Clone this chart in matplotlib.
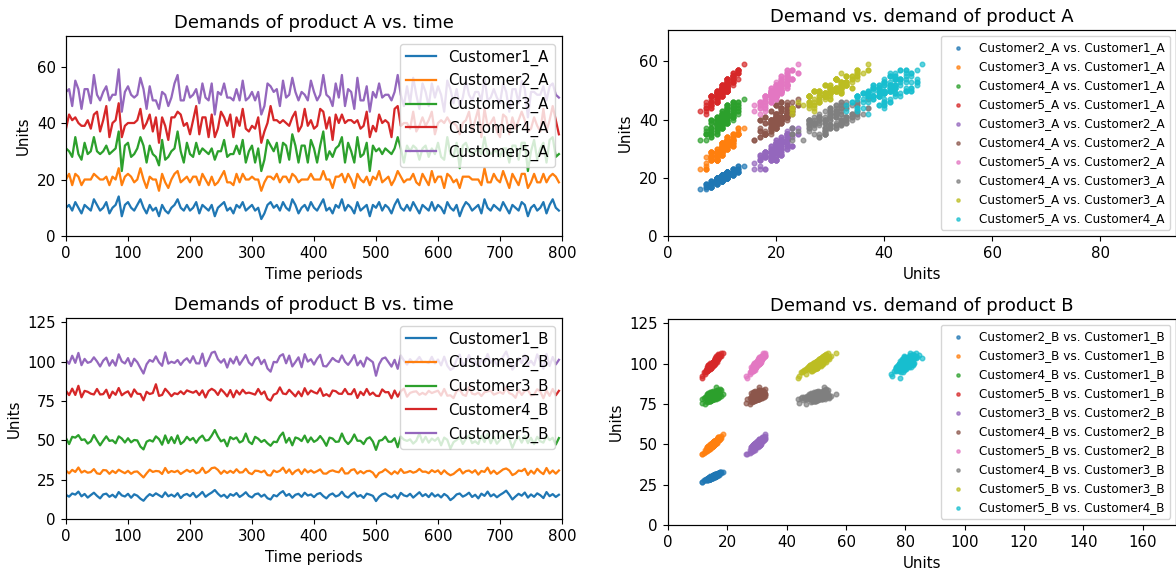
import matplotlib
matplotlib.use("Agg")
import matplotlib.pyplot as plt
from itertools import combinations

# Time index (every 5th period)
time_periods = list(range(0, 800, 5))

# Product A demand per customer (units)
customer1_a = [
    10, 11, 9, 12, 10, 8, 11, 10, 9, 13, 11, 9, 10, 12, 8, 10, 11, 14, 7, 11,
    12, 10, 9, 11, 13, 10, 8, 11, 9, 10, 7, 11, 9, 8, 10, 11, 13, 10, 9, 11,
    9, 10, 12, 8, 11, 10, 9, 11, 7, 10, 11, 12, 9, 10, 8, 11, 10, 12, 9, 10,
    11, 9, 10, 6, 8, 11, 12, 10, 11, 9, 12, 10, 9, 13, 11, 8, 10, 11, 9, 12,
    10, 9, 11, 13, 9, 10, 8, 11, 10, 13, 9, 11, 10, 8, 12, 9, 10, 11, 7, 11,
    10, 12, 9, 11, 10, 8, 11, 13, 10, 9, 11, 9, 12, 10, 8, 11, 10, 9, 12, 9,
    11, 10, 8, 12, 10, 9, 11, 7, 10, 12, 11, 9, 10, 11, 8, 13, 10, 9, 11, 10,
    9, 12, 10, 8, 11, 10, 9, 12, 11, 7, 10, 11, 9, 10, 12, 8, 11, 13, 10, 9]
customer2_a = [
    20, 22, 18, 22, 21, 18, 20, 20, 20, 22, 21, 20, 20, 21, 18, 21, 20, 24, 18, 21,
    22, 21, 19, 20, 24, 20, 17, 21, 20, 20, 16, 22, 19, 17, 20, 22, 23, 19, 20, 21,
    19, 21, 21, 18, 22, 20, 18, 21, 18, 19, 21, 23, 19, 19, 18, 22, 19, 22, 20, 20,
    21, 20, 20, 16, 19, 21, 21, 20, 22, 19, 21, 21, 19, 22, 21, 19, 20, 20, 20, 22,
    20, 20, 20, 23, 20, 20, 17, 21, 21, 22, 19, 22, 20, 17, 22, 20, 19, 21, 18, 21,
    20, 23, 19, 20, 21, 18, 20, 23, 21, 19, 20, 20, 22, 19, 18, 22, 20, 18, 23, 19,
    21, 21, 17, 22, 21, 19, 20, 17, 21, 21, 21, 20, 20, 20, 18, 24, 19, 19, 22, 20,
    19, 23, 20, 17, 22, 20, 18, 22, 22, 17, 19, 22, 19, 19, 22, 19, 21, 22, 21, 19]
customer3_a = [
    31, 30, 28, 35, 29, 27, 33, 29, 30, 35, 30, 29, 30, 32, 29, 30, 31, 37, 23, 32,
    33, 28, 29, 31, 35, 32, 26, 32, 29, 28, 25, 34, 27, 28, 30, 31, 37, 30, 26, 33,
    29, 28, 33, 29, 31, 30, 29, 31, 27, 30, 30, 34, 28, 29, 29, 32, 29, 34, 26, 30,
    32, 26, 31, 23, 27, 34, 32, 30, 33, 26, 33, 32, 27, 36, 32, 26, 32, 32, 26, 34,
    31, 26, 32, 37, 27, 30, 28, 31, 32, 35, 26, 33, 30, 26, 35, 28, 29, 33, 23, 32,
    30, 31, 29, 31, 30, 29, 31, 35, 31, 26, 32, 30, 32, 31, 27, 31, 32, 28, 31, 29,
    33, 28, 27, 35, 29, 28, 33, 24, 32, 33, 30, 29, 30, 31, 29, 35, 29, 29, 30, 30,
    28, 31, 31, 26, 32, 32, 27, 33, 33, 23, 30, 34, 27, 31, 33, 26, 34, 35, 28, 29]
customer4_a = [
    38, 43, 41, 42, 40, 39, 39, 41, 38, 43, 44, 37, 41, 46, 35, 40, 41, 47, 35, 39,
    40, 40, 40, 41, 45, 38, 40, 43, 37, 42, 33, 42, 39, 34, 42, 42, 44, 43, 39, 40,
    36, 41, 46, 36, 42, 42, 35, 43, 35, 38, 44, 42, 39, 43, 35, 42, 39, 45, 38, 37,
    39, 38, 42, 33, 37, 40, 46, 41, 41, 40, 41, 40, 39, 42, 44, 37, 39, 45, 39, 41,
    38, 39, 45, 44, 38, 42, 34, 43, 40, 43, 40, 41, 41, 40, 41, 38, 39, 44, 35, 39,
    37, 43, 40, 41, 40, 35, 45, 46, 39, 40, 40, 38, 44, 37, 39, 42, 39, 41, 44, 36,
    40, 41, 40, 42, 40, 40, 39, 36, 40, 41, 44, 37, 41, 45, 35, 45, 39, 40, 42, 37,
    35, 43, 42, 36, 42, 38, 41, 44, 41, 37, 38, 42, 39, 37, 45, 37, 41, 46, 41, 36]
customer5_a = [
    51, 52, 46, 55, 52, 45, 52, 52, 47, 57, 50, 48, 51, 53, 48, 50, 50, 59, 44, 51,
    53, 50, 49, 50, 56, 52, 45, 53, 48, 48, 45, 51, 50, 46, 49, 54, 57, 48, 48, 53,
    49, 50, 52, 47, 54, 49, 48, 54, 43, 51, 50, 54, 49, 49, 48, 52, 48, 55, 48, 49,
    51, 48, 51, 43, 46, 54, 53, 51, 52, 46, 55, 49, 50, 56, 51, 48, 51, 50, 48, 55,
    51, 48, 50, 57, 50, 49, 46, 54, 49, 57, 46, 52, 51, 45, 56, 48, 48, 53, 44, 51,
    49, 54, 49, 50, 50, 48, 51, 57, 50, 46, 53, 47, 56, 50, 45, 54, 51, 46, 54, 49,
    53, 50, 44, 55, 52, 47, 52, 46, 49, 55, 50, 48, 51, 51, 48, 56, 48, 49, 52, 49,
    47, 54, 51, 44, 52, 52, 47, 55, 52, 42, 51, 51, 50, 50, 53, 48, 53, 54, 50, 49]

# Product B demand per customer (units)
customer1_b = [
    15.3, 14.2, 16.2, 15.5, 17.4, 14.4, 15.9, 13.6, 15.2, 16.7, 14.7, 13.1, 15.6, 16.1, 14.1, 15.4, 13.7, 17.1, 15.0, 14.3,
    16.0, 13.5, 15.7, 14.8, 12.9, 11.6, 14.0, 15.8, 14.6, 16.3, 15.1, 13.9, 16.9, 14.4, 15.5, 14.2, 16.4, 13.3, 15.2, 15.9,
    14.5, 16.6, 13.8, 15.3, 17.2, 14.1, 15.6, 16.8, 18.4, 16.1, 14.3, 15.4, 13.4, 15.8, 14.8, 16.5, 14.0, 15.3, 17.0, 14.6,
    13.7, 15.7, 16.2, 14.2, 15.5, 13.2, 12.4, 15.2, 14.4, 16.4, 17.7, 14.7, 15.9, 13.5, 15.4, 16.0, 14.1, 16.7, 14.9, 15.6,
    13.9, 15.8, 16.5, 14.5, 13.1, 15.3, 16.2, 14.3, 15.1, 17.3, 14.6, 13.6, 15.6, 16.9, 14.2, 15.2, 13.4, 16.1, 15.5, 14.7,
    11.4, 14.1, 15.7, 16.3, 14.8, 13.8, 15.4, 13.0, 16.6, 15.0, 14.4, 16.0, 13.6, 15.3, 17.0, 14.5, 15.8, 13.9, 16.4, 14.3,
    15.5, 13.7, 15.9, 14.6, 12.0, 13.5, 15.6, 16.2, 14.2, 15.2, 16.7, 14.0, 15.4, 13.1, 16.1, 14.7, 17.4, 14.4, 15.7, 13.8,
    15.3, 16.5, 18.0, 15.4, 12.4, 14.3, 16.0, 14.8, 16.8, 13.6, 15.6, 14.1, 16.3, 15.1, 13.3, 17.1, 14.5, 15.8, 14.0, 15.4]
customer2_b = [
    30.7, 29.0, 31.2, 29.9, 32.7, 29.5, 30.6, 29.4, 29.8, 31.7, 29.0, 28.6, 31.1, 30.9, 28.7, 30.6, 29.2, 31.3, 30.1, 29.1,
    30.6, 28.7, 30.0, 30.2, 28.3, 26.4, 29.0, 31.3, 29.9, 30.5, 30.3, 28.6, 32.4, 29.3, 30.5, 29.8, 30.7, 28.6, 29.9, 31.2,
    29.9, 31.1, 29.0, 29.7, 32.5, 29.2, 30.3, 32.3, 32.7, 31.2, 28.7, 30.7, 29.2, 30.6, 29.3, 31.6, 29.5, 29.7, 31.9, 29.3,
    28.5, 30.7, 30.5, 29.7, 30.7, 27.9, 27.6, 30.8, 29.8, 30.6, 32.6, 29.3, 31.5, 28.4, 30.4, 31.4, 28.6, 31.6, 29.6, 30.9,
    29.4, 30.4, 31.5, 28.9, 28.8, 30.3, 30.9, 30.1, 29.7, 32.3, 28.9, 29.0, 31.1, 31.6, 28.8, 30.4, 29.0, 30.4, 30.6, 29.4,
    26.5, 29.3, 30.0, 31.6, 30.0, 28.4, 30.3, 28.8, 31.7, 29.3, 29.7, 30.5, 29.4, 30.1, 31.8, 30.0, 30.1, 29.1, 31.0, 29.8,
    30.9, 28.5, 30.9, 29.0, 27.8, 28.6, 30.3, 31.8, 28.9, 30.4, 30.8, 29.4, 31.0, 28.2, 30.5, 29.9, 32.6, 28.9, 30.7, 28.6,
    30.0, 31.5, 32.1, 30.8, 27.9, 28.9, 30.8, 30.4, 31.9, 28.0, 30.7, 28.8, 31.9, 29.9, 28.5, 32.4, 28.9, 30.8, 28.8, 30.8]
customer3_b = [
    51.3, 47.6, 52.2, 51.7, 53.3, 50.2, 50.6, 47.9, 49.3, 53.3, 49.9, 46.8, 49.8, 52.5, 49.6, 50.0, 48.1, 52.5, 51.1, 48.6,
    51.3, 48.7, 50.2, 49.9, 46.0, 44.2, 49.1, 50.1, 49.2, 52.5, 50.8, 47.2, 53.1, 48.2, 52.0, 48.2, 53.1, 47.6, 49.2, 52.2,
    50.0, 51.5, 48.4, 51.4, 53.0, 49.8, 50.2, 53.0, 56.5, 52.4, 49.3, 50.4, 46.2, 52.0, 50.7, 51.8, 48.6, 49.6, 54.3, 49.1,
    47.6, 52.2, 51.0, 48.9, 50.2, 48.1, 46.5, 49.1, 48.8, 52.6, 54.9, 48.5, 51.5, 46.8, 51.8, 51.1, 49.5, 53.0, 48.7, 51.8,
    49.0, 50.2, 52.7, 50.1, 46.5, 51.7, 51.1, 49.0, 49.2, 54.3, 49.8, 47.6, 49.8, 53.7, 49.7, 49.7, 47.6, 50.9, 51.9, 49.2,
    43.9, 49.7, 50.2, 52.3, 49.1, 49.1, 51.3, 45.6, 52.4, 50.4, 49.6, 50.6, 47.9, 49.7, 54.4, 48.7, 52.2, 48.5, 51.1, 49.7,
    51.6, 46.8, 51.7, 50.3, 44.7, 48.8, 50.2, 52.0, 47.7, 50.9, 53.1, 48.2, 49.4, 47.7, 52.8, 48.9, 54.0, 48.1, 52.2, 47.8,
    50.2, 53.5, 53.9, 50.8, 45.2, 49.9, 52.3, 48.5, 52.7, 48.2, 51.6, 47.6, 52.2, 49.4, 48.5, 52.9, 50.1, 51.6, 47.3, 51.4]
customer4_b = [
    81.4, 78.7, 82.8, 78.8, 84.6, 77.3, 81.4, 80.8, 79.6, 79.1, 82.6, 79.1, 79.3, 82.1, 76.9, 80.9, 78.9, 83.2, 78.6, 80.1,
    81.1, 77.7, 82.3, 79.6, 79.4, 75.4, 80.8, 79.4, 80.0, 85.6, 78.2, 78.8, 82.7, 80.5, 78.0, 79.9, 79.3, 81.1, 79.3, 81.7,
    80.9, 80.2, 81.4, 78.7, 81.7, 77.2, 81.3, 82.7, 81.5, 78.8, 82.4, 80.4, 77.9, 81.9, 77.3, 81.6, 79.1, 82.1, 79.8, 80.3,
    79.7, 79.0, 82.6, 79.2, 81.0, 76.3, 75.2, 79.0, 79.8, 83.6, 79.7, 79.3, 82.1, 80.0, 77.9, 81.0, 78.0, 83.1, 79.1, 81.6,
    80.5, 79.7, 83.0, 78.2, 79.3, 77.9, 81.6, 81.2, 79.6, 79.5, 82.6, 79.4, 79.3, 82.5, 76.9, 80.8, 78.7, 82.6, 78.9, 80.3,
    78.3, 78.1, 82.3, 80.5, 80.6, 76.7, 81.6, 77.7, 81.2, 82.8, 77.7, 80.1, 80.8, 81.1, 78.9, 80.1, 79.0, 81.4, 80.0, 80.8,
    81.5, 78.4, 82.6, 78.3, 78.6, 76.8, 81.3, 82.3, 79.0, 78.2, 83.8, 79.6, 79.1, 80.3, 78.1, 80.5, 81.1, 81.5, 79.0, 79.8,
    80.7, 79.5, 83.7, 79.9, 79.1, 77.0, 82.0, 78.8, 81.3, 82.0, 78.5, 79.0, 82.4, 81.0, 76.7, 81.7, 78.2, 82.6, 78.6, 81.4]
customer5_b = [
    100.9, 98.6, 103.7, 99.2, 105.5, 97.7, 101.7, 99.2, 99.9, 102.7, 100.1, 96.9, 100.6, 102.5, 97.4, 100.9, 97.4, 104.6, 100.1, 98.8,
    102.2, 97.1, 101.8, 99.6, 95.9, 92.4, 98.3, 101.0, 99.9, 103.3, 99.5, 97.3, 105.8, 98.7, 99.9, 99.1, 101.0, 97.9, 100.6, 102.1,
    99.3, 103.4, 98.9, 98.8, 105.1, 97.1, 101.1, 105.6, 106.3, 101.5, 99.3, 101.5, 96.2, 101.9, 98.8, 103.1, 98.0, 101.0, 104.1, 99.4,
    97.6, 101.5, 102.8, 98.4, 101.1, 95.6, 93.6, 99.8, 99.5, 103.5, 104.7, 98.9, 103.8, 96.9, 99.7, 102.7, 96.4, 104.7, 100.0, 101.5,
    98.1, 101.8, 104.3, 97.2, 96.9, 99.5, 102.3, 100.6, 99.7, 103.9, 99.9, 97.9, 100.6, 104.1, 97.6, 100.5, 96.8, 102.6, 101.1, 99.6,
    91.0, 98.3, 101.8, 102.6, 99.7, 96.8, 101.1, 95.4, 103.9, 100.7, 98.1, 101.5, 99.2, 100.5, 102.9, 99.7, 99.8, 99.1, 103.0, 98.9,
    101.3, 97.6, 103.1, 97.4, 94.7, 95.9, 101.1, 104.4, 97.9, 99.7, 104.1, 98.7, 100.2, 96.5, 101.4, 99.5, 104.8, 99.2, 101.5, 97.8,
    100.8, 103.1, 106.4, 100.8, 94.9, 97.8, 102.3, 99.0, 104.3, 97.9, 100.5, 97.7, 104.6, 100.1, 95.5, 104.9, 97.2, 102.9, 98.2, 101.1]

names_a = ["Customer1_A", "Customer2_A", "Customer3_A", "Customer4_A", "Customer5_A"]
names_b = ["Customer1_B", "Customer2_B", "Customer3_B", "Customer4_B", "Customer5_B"]
series_a = [customer1_a, customer2_a, customer3_a, customer4_a, customer5_a]
series_b = [customer1_b, customer2_b, customer3_b, customer4_b, customer5_b]

SCALE = 1.08
plt.rcParams.update({
    "font.size": 10 * SCALE,
    "lines.linewidth": 1.5 * SCALE,
    "xtick.major.size": 3.5 * SCALE,
    "ytick.major.size": 3.5 * SCALE,
    "axes.linewidth": 0.8 * SCALE,
})

W, H = 1176, 571


def px_axes(fig, left, top, right, bottom):
    return fig.add_axes([left / W, 1 - bottom / H, (right - left) / W, (bottom - top) / H])


def time_panel(ax, series, names, title, yticks=None):
    for values, name in zip(series, names):
        ax.plot(time_periods, values, label=name)
    ax.set_xlim(0, 800)
    ax.set_ylim(0, 1.2 * max(max(v) for v in series))
    if yticks is not None:
        ax.set_yticks(yticks)
    ax.set_title(title)
    ax.set_xlabel("Time periods")
    ax.set_ylabel("Units")
    ax.legend(loc="upper right")


def pair_panel(ax, series, names, title, yticks=None):
    for i, j in combinations(range(len(series)), 2):
        ax.scatter(series[i], series[j], s=11, alpha=0.7,
                   label=f"{names[j]} vs. {names[i]}")
    ax.set_xlim(0, 2 * max(max(v) for v in series[:-1]))
    ax.set_ylim(0, 1.2 * max(max(v) for v in series))
    if yticks is not None:
        ax.set_yticks(yticks)
    ax.set_title(title)
    ax.set_xlabel("Units")
    ax.set_ylabel("Units")
    ax.legend(loc="upper right", fontsize=8 * SCALE, markerscale=0.7)


fig = plt.figure(figsize=(W / 100, H / 100), dpi=100)
ax1 = px_axes(fig, 66, 36, 562, 236)
ax2 = px_axes(fig, 668, 30, 1176, 236)
ax3 = px_axes(fig, 66, 318, 562, 519)
ax4 = px_axes(fig, 668, 319, 1176, 525)

ticks_b = [0, 25, 50, 75, 100, 125]
time_panel(ax1, series_a, names_a, "Demands of product A vs. time")
pair_panel(ax2, series_a, names_a, "Demand vs. demand of product A")
time_panel(ax3, series_b, names_b, "Demands of product B vs. time", ticks_b)
pair_panel(ax4, series_b, names_b, "Demand vs. demand of product B", ticks_b)

fig.savefig("out.png", dpi=100)
